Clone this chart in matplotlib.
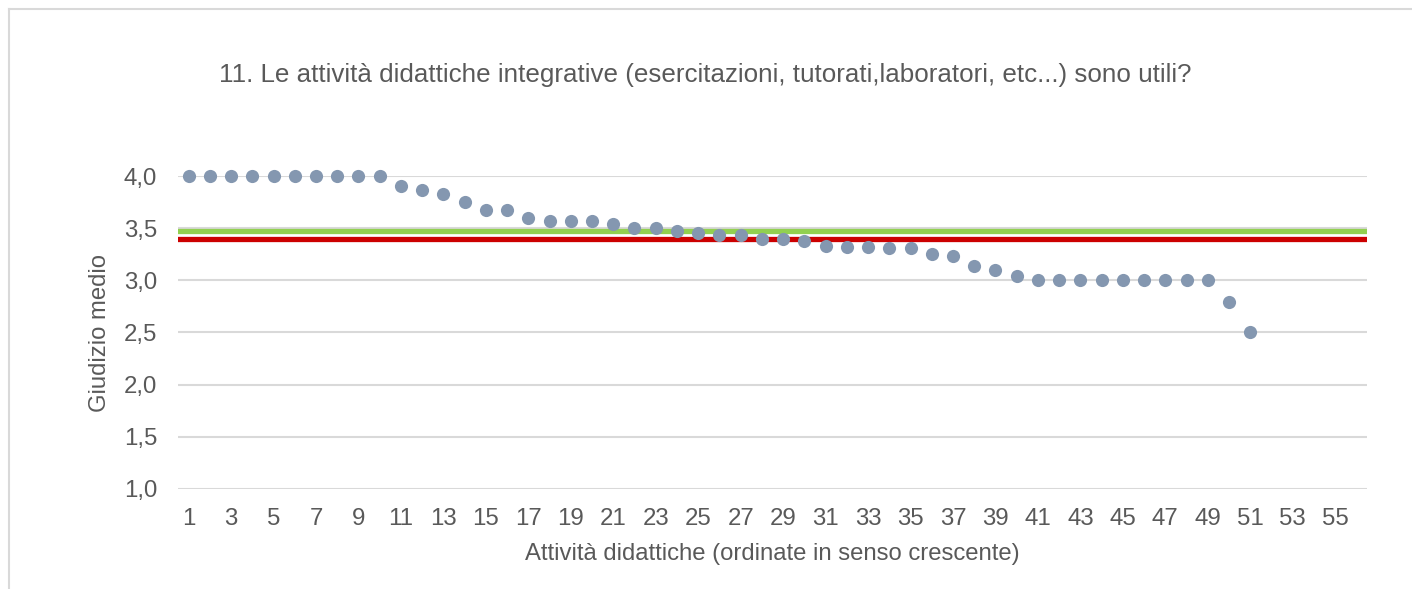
import matplotlib
matplotlib.use("Agg")
import matplotlib.pyplot as plt
from matplotlib.lines import Line2D
import numpy as np

plt.rcParams['font.family'] = ['Liberation Sans', 'DejaVu Sans']

title = "11. Le attività didattiche integrative (esercitazioni, tutorati,laboratori, etc...) sono utili?"
xlabel = "Attività didattiche (ordinate in senso crescente)"
ylabel = "Giudizio medio"

n_categories = 56
scores = [4.0, 4.0, 4.0, 4.0, 4.0, 4.0, 4.0, 4.0, 4.0, 4.0,
          3.90, 3.87, 3.83, 3.75, 3.67, 3.67, 3.60, 3.57, 3.57, 3.57,
          3.54, 3.50, 3.50, 3.47, 3.45, 3.43, 3.43, 3.40, 3.40, 3.38,
          3.33, 3.32, 3.32, 3.31, 3.31, 3.25, 3.23, 3.14, 3.10, 3.04,
          3.0, 3.0, 3.0, 3.0, 3.0, 3.0, 3.0, 3.0, 3.0, 2.79, 2.50]
mean_green = 3.47
mean_red = 3.40
yticks = [1.0, 1.5, 2.0, 2.5, 3.0, 3.5, 4.0]

text_color = "#595959"
W, H = 1412, 589
fig = plt.figure(figsize=(W / 100, H / 100), dpi=100)
ax = fig.add_axes([178 / W, 1 - 489 / H, (1367 - 178) / W, (489 - 176) / H])

x = np.arange(1, len(scores) + 1)
ax.set_xlim(0.5, n_categories + 0.5)
ax.set_ylim(1.0, 4.0)
ax.set_yticks(yticks)
ax.set_yticklabels([f"{v:.1f}".replace(".", ",") for v in yticks])
ax.set_xticks(np.arange(1, n_categories + 1, 2))
ax.grid(axis='y', color="#D9D9D9", linewidth=1.5, zorder=0)
ax.set_axisbelow(True)
for s in ax.spines.values():
    s.set_visible(False)
ax.tick_params(length=0, labelsize=17.3, colors=text_color)
ax.tick_params(axis='y', pad=15)
ax.tick_params(axis='x', pad=14)

ax.axhline(mean_green, color="#92D050", linewidth=3.8, zorder=2)
ax.axhline(mean_red, color="#CC0000", linewidth=3.8, zorder=2)
ax.scatter(x, scores, s=90, color="#8497B0", zorder=3, clip_on=False, linewidths=0)

fig.text(772 / W, 1 - 554 / H, xlabel, ha='center', va='center', fontsize=17.2, color=text_color)
fig.text(100 / W, 1 - 333 / H, ylabel, ha='center', va='center', rotation=90,
         fontsize=17.2, color=text_color)
fig.text(705 / W, 1 - 75 / H, title, ha='center', va='center', fontsize=18.7, color=text_color)

fig.add_artist(Line2D([9 / W, 9 / W], [0, 1 - 9 / H], color="#D9D9D9", linewidth=1.5))
fig.add_artist(Line2D([9 / W, 1], [1 - 9 / H, 1 - 9 / H], color="#D9D9D9", linewidth=1.5))

fig.savefig("out.png", dpi=100, facecolor="white")
